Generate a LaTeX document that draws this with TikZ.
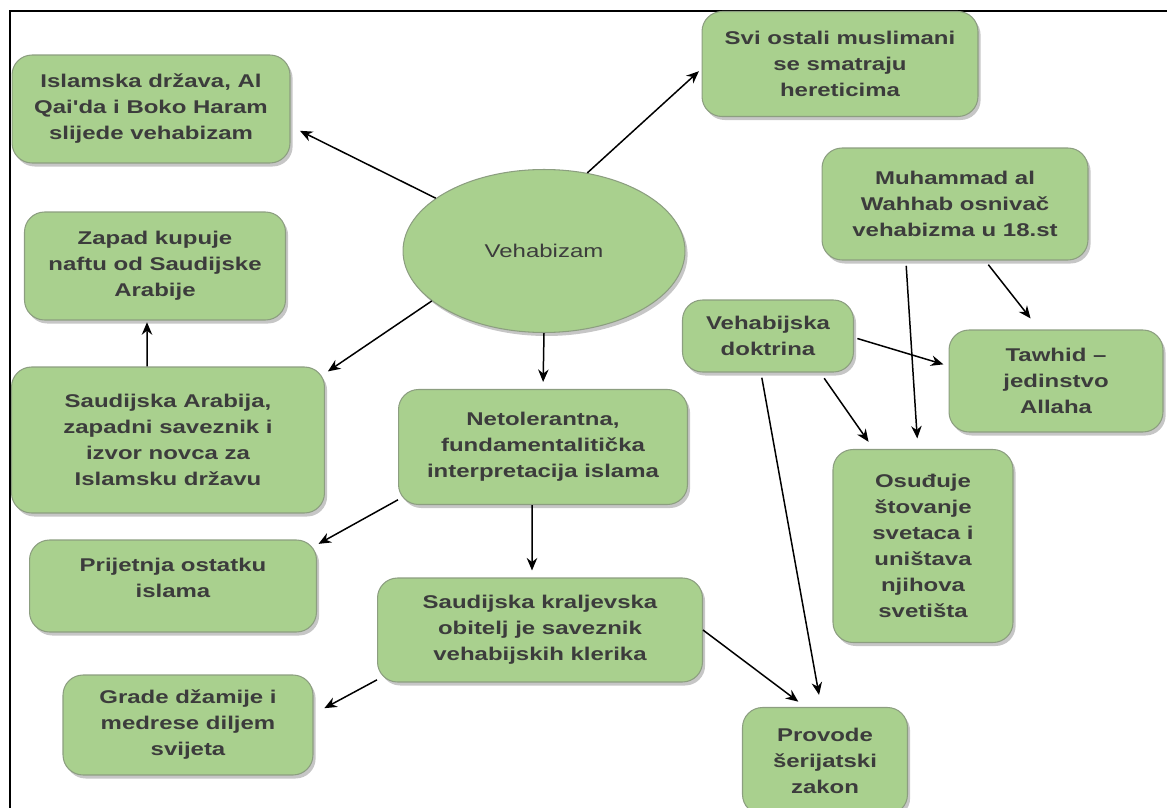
\documentclass[tikz,border=0pt]{standalone}
\usepackage{fontspec}
\setsansfont{Liberation Sans}[FakeStretch=1.3, Ligatures=TeXOff]
\usepackage{xcolor}
\usetikzlibrary{positioning, arrows.meta, shapes.geometric, shadows}
\definecolor{boxgreen}{RGB}{169,208,142}
\definecolor{boxline}{RGB}{140,158,128}
\definecolor{boxtext}{RGB}{60,60,60}

\begin{document}
\begin{tikzpicture}[x=0.02cm,y=-0.02cm,>={Stealth[length=2.5mm,width=2.1mm]},line width=0.85pt,
        font=\sffamily\bfseries\fontsize{10.5}{14.8}\selectfont]
        \tikzstyle{box}=[draw=boxline,fill=boxgreen,text=boxtext,rounded corners=0.4cm,align=center,
                inner sep=0pt,line width=0.6pt,drop shadow={shadow xshift=1.5pt,shadow yshift=-2pt,opacity=0.45}]
        \tikzstyle{link}=[->,black]

        \useasboundingbox (0,0) rectangle (1167,808);
        \draw[line width=1.7pt] (10,808) -- (10,11) -- (1167,11);

        \node[box, minimum width=5.56cm, minimum height=2.16cm] (ISD) at (151,109) {Islamska država, Al\\Qai'da i Boko Haram\\slijede vehabizam};
        \node[box, minimum width=5.52cm, minimum height=2.1cm]  (SVI) at (840,64)  {Svi ostali muslimani\\se smatraju\\hereticima};
        \node[box, minimum width=5.22cm, minimum height=2.16cm] (ZAP) at (155,266) {Zapad kupuje\\naftu od Saudijske\\Arabije};
        \node[ellipse, draw=boxline, fill=boxgreen, text=boxtext, line width=0.6pt, font=\sffamily\mdseries\fontsize{10.5}{14.8}\selectfont,
              minimum width=5.64cm, minimum height=3.26cm, drop shadow={shadow xshift=1.5pt,shadow yshift=-2pt,opacity=0.45}] (VEH) at (544,251) {Vehabizam};
        \node[box, minimum width=5.32cm, minimum height=2.24cm] (MUH) at (955,204) {Muhammad al\\Wahhab osnivač\\vehabizma u 18.st};
        \node[box, minimum width=3.42cm, minimum height=1.44cm] (DOK) at (768,336) {Vehabijska\\doktrina};
        \node[box, minimum width=4.28cm, minimum height=2.04cm] (TAW) at (1056,381) {Tawhid –\\jedinstvo\\Allaha};
        \node[box, minimum width=6.26cm, minimum height=2.92cm] (SAR) at (168,440) {Saudijska Arabija,\\zapadni saveznik i\\izvor novca za\\Islamsku državu};
        \node[box, minimum width=5.78cm, minimum height=2.3cm]  (NET) at (543,447) {Netolerantna,\\fundamentalitička\\interpretacija islama};
        \node[box, minimum width=6.5cm, minimum height=2.08cm]  (KRA) at (540,630) {Saudijska kraljevska\\obitelj je saveznik\\vehabijskih klerika};
        \node[box, minimum width=3.6cm, minimum height=3.86cm]  (OSU) at (923,546) {Osuđuje\\štovanje\\svetaca i\\uništava\\njihova\\svetišta};
        \node[box, minimum width=5.74cm, minimum height=1.84cm, text depth=0.32cm] (PRI) at (173,586) {Prijetnja ostatku\\islama};
        \node[box, minimum width=5cm, minimum height=2cm]       (GRA) at (188,725) {Grade džamije i\\medrese diljem\\svijeta};
        \node[box, minimum width=3.3cm, minimum height=2.14cm]  (PRO) at (825,761) {Provode\\šerijatski\\zakon};

        \draw[link, shorten >=6pt] (VEH.154) -- (ISD.-7);
        \draw[link, shorten >=2pt] (VEH.61) -- (SVI.182);
        \draw[link, shorten >=2pt] (VEH.204) -- (SAR.23);
        \draw[link, shorten >=4pt] (VEH.south) -- (NET.north);
        \draw[link, shorten >=1pt] ([xshift=-0.42cm]SAR.north) -- ([xshift=-0.16cm]ZAP.south);
        \draw[link, shorten >=1pt] (NET.200) -- (PRI.16);
        \draw[link, shorten >=4pt] ([xshift=-0.22cm]NET.south) -- ([xshift=-0.16cm]KRA.north);
        \draw[link, shorten >=7pt] (KRA.197) -- (GRA.5);
        \draw[link, shorten >=5pt] (KRA.east) -- (PRO.110);
        \draw[link, shorten <=3pt, shorten >=7pt] (DOK.259) -- (PRO.94);
        \draw[link, shorten <=2pt, shorten >=3pt] (DOK.-1) -- (TAW.172);
        \draw[link, shorten <=4pt, shorten >=5pt] (DOK.-35) -- (OSU.117);
        \draw[link, shorten <=3pt, shorten >=6pt] (MUH.229) -- (OSU.93);
        \draw[link, shorten <=3pt, shorten >=8pt] (MUH.-62) -- (TAW.108);
\end{tikzpicture}
\end{document}
